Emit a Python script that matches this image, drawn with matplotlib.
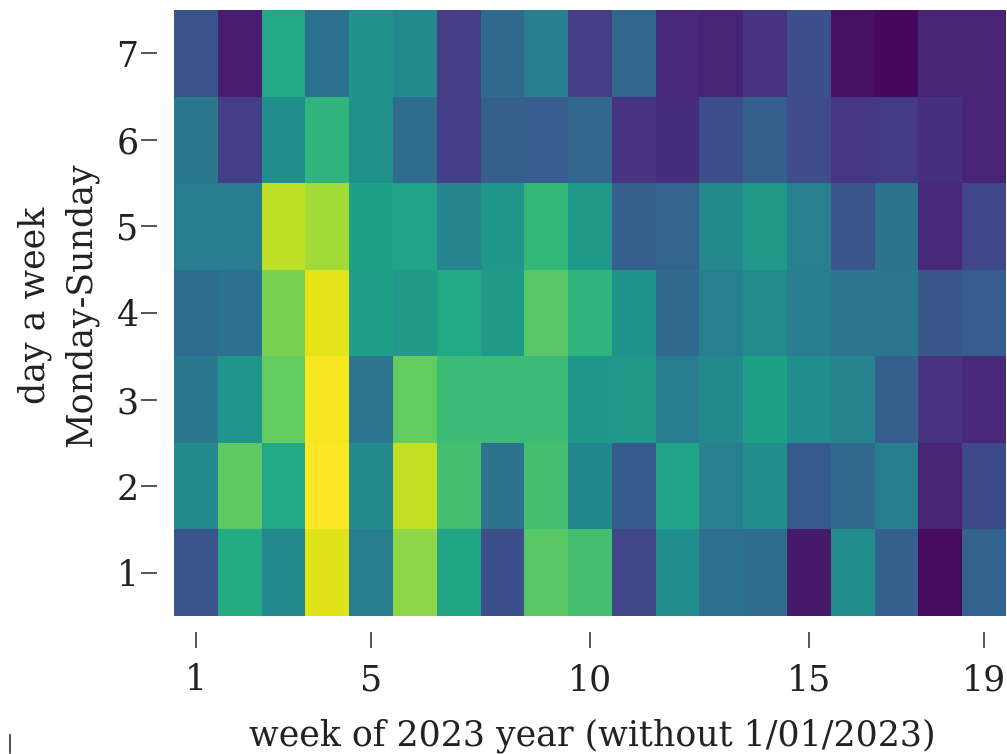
import matplotlib
matplotlib.use("Agg")
import matplotlib.pyplot as plt
import numpy as np
from matplotlib.lines import Line2D

weeks = list(range(1, 20))
days = list(range(1, 8))

# values per day (row), weeks 1..19 (colour intensity on viridis 0..1)
day1 = [0.26, 0.61, 0.47, 0.95, 0.42, 0.83, 0.59, 0.24, 0.74, 0.70, 0.21, 0.49, 0.37, 0.35, 0.07, 0.49, 0.30, 0.03, 0.31]
day2 = [0.47, 0.75, 0.60, 1.00, 0.47, 0.91, 0.70, 0.38, 0.70, 0.46, 0.28, 0.58, 0.43, 0.49, 0.28, 0.34, 0.42, 0.10, 0.22]
day3 = [0.40, 0.52, 0.76, 0.99, 0.39, 0.76, 0.68, 0.68, 0.68, 0.53, 0.54, 0.42, 0.47, 0.57, 0.49, 0.45, 0.30, 0.15, 0.11]
day4 = [0.35, 0.37, 0.80, 0.96, 0.56, 0.54, 0.60, 0.54, 0.74, 0.65, 0.51, 0.34, 0.43, 0.48, 0.42, 0.39, 0.39, 0.27, 0.29]
day5 = [0.42, 0.42, 0.90, 0.86, 0.57, 0.58, 0.45, 0.53, 0.66, 0.54, 0.30, 0.32, 0.47, 0.54, 0.43, 0.26, 0.38, 0.11, 0.21]
day6 = [0.40, 0.18, 0.49, 0.65, 0.50, 0.35, 0.18, 0.30, 0.29, 0.33, 0.15, 0.13, 0.24, 0.30, 0.23, 0.16, 0.17, 0.14, 0.10]
day7 = [0.25, 0.08, 0.60, 0.37, 0.50, 0.47, 0.18, 0.34, 0.42, 0.18, 0.33, 0.11, 0.10, 0.15, 0.24, 0.04, 0.02, 0.10, 0.10]

xticks = [1, 5, 10, 15, 19]
yticks = [1, 2, 3, 4, 5, 6, 7]
xlabel = "week of 2023 year (without 1/01/2023)"
ylabel = "day a week\nMonday-Sunday"

data = np.array([day1, day2, day3, day4, day5, day6, day7])

plt.rcParams['font.family'] = ['DejaVu Serif']
FS = 25

W, H = 1007, 754
fig = plt.figure(figsize=(W / 100, H / 100), dpi=100)
ax = fig.add_axes([174 / W, 1 - 616 / H, (1006 - 174) / W, (616 - 10) / H])

x_edges = np.arange(len(weeks) + 1) + 0.5
y_edges = np.arange(len(days) + 1) + 0.5
ax.pcolormesh(x_edges, y_edges, data, cmap='viridis', vmin=0, vmax=1)
ax.set_xlim(x_edges[0], x_edges[-1])
ax.set_ylim(y_edges[0], y_edges[-1])

for s in ax.spines.values():
    s.set_visible(False)
ax.spines['left'].set_position(('outward', 12))
ax.spines['bottom'].set_position(('outward', 11.5))

ax.set_xticks(xticks)
ax.set_xticklabels([str(t) for t in xticks])
ax.set_yticks(yticks)
ax.set_yticklabels([str(t) for t in yticks])
ax.tick_params(axis='x', length=11.5, width=1.4, pad=11, color='#555555',
               labelsize=FS, labelcolor='#222222')
ax.tick_params(axis='y', length=11.5, width=1.4, pad=2, color='#555555',
               labelsize=FS, labelcolor='#222222')

fig.text(58 / W, 1 - 305 / H, ylabel, rotation=90, ha='center', va='center',
         multialignment='center', fontsize=FS, color='#222222', linespacing=1.45)
fig.text(592 / W, 1 - 736 / H, xlabel, ha='center', va='center',
         fontsize=FS, color='#222222')

fig.add_artist(Line2D([10 / W, 10 / W], [1 - 735 / H, 1 - 753 / H],
                      transform=fig.transFigure, color='#333333', lw=1.2))

fig.savefig("out.png", dpi=100)
